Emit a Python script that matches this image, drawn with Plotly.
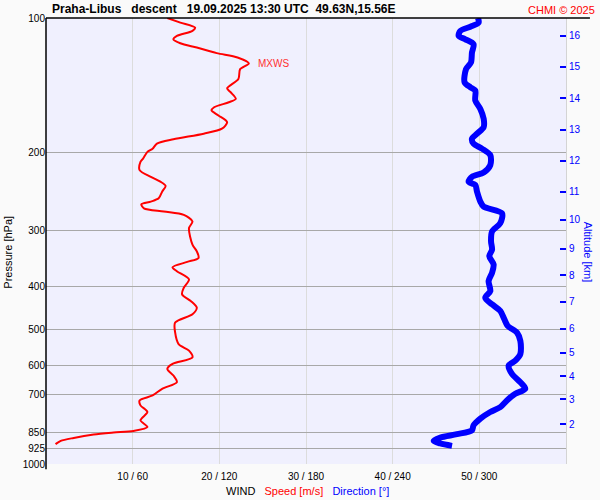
import math
import plotly.graph_objects as go

# wind speed profile (descent), pressure in hPa, speed in m/s
speed_p = [100, 102.4, 105.1, 106.9, 109.7, 111.6, 113.9, 116.5, 119.9, 122.6,
           126.4, 130.2, 137.0, 143.7, 146.7, 151.8, 154.5, 158.5, 161.2, 165.4,
           171.2, 177.1, 181.7, 187.0, 191.3, 196.3, 199.6, 206.6, 210.2, 219.3,
           227.0, 232.8, 238.0, 245.1, 253.7, 258.0, 261.6, 267.1, 271.6, 276.3,
           285.9, 296.0, 322.2, 333.5, 345.1, 352.3, 362.0, 369.5, 385.6, 402.6,
           416.5, 431.0, 446.1, 461.5, 481.8, 507.1, 538.3, 557.1, 576.6, 596.5,
           612.0, 633.4, 655.6, 678.2, 702.0, 720.1, 738.8, 764.6, 798.0, 825.9,
           843.0, 850.0, 858.8, 874.0, 887.6, 902.7]
speed_ms = [14.0, 15.5, 17.2, 16.9, 15.1, 14.7, 15.5, 17.4, 19.7, 22.1,
            23.4, 22.4, 22.2, 20.9, 21.3, 21.9, 21.1, 19.4, 19.1, 19.9,
            20.9, 20.3, 18.2, 14.7, 12.8, 12.3, 11.7, 11.2, 10.9, 10.8,
            12.1, 13.2, 13.8, 13.4, 13.0, 12.1, 11.0, 11.3, 13.6, 15.9,
            16.9, 16.5, 16.9, 17.4, 17.6, 16.3, 14.6, 15.1, 16.5, 15.9,
            15.7, 16.7, 17.4, 16.9, 14.9, 14.9, 15.3, 16.5, 16.9, 14.6,
            14.0, 14.7, 15.1, 13.4, 12.3, 10.8, 10.9, 11.7, 10.9, 11.7,
            10.1, 7.8, 5.5, 3.2, 1.7, 1.1]

# wind direction profile, degrees
dir_p = [100, 102.4, 104.6, 106.9, 109.7, 111.6, 114.5, 119.5, 125.8, 130.2,
         139.4, 143.0, 145.4, 153.1, 159.9, 168.3, 175.6, 181.7, 186.5, 191.3,
         196.3, 203.0, 213.7, 222.0, 227.0, 232.8, 236.8, 245.1, 258.0, 264.8,
         274.0, 288.4, 301.0, 316.8, 330.6, 342.1, 357.0, 372.8, 389.0, 409.5,
         423.8, 438.5, 453.8, 473.5, 490.0, 507.3, 529.4, 566.8, 586.6, 601.9,
         628.1, 655.6, 678.2, 695.8, 720.1, 745.3, 764.6, 791.0, 818.7, 840.0,
         857.4, 872.1, 887.2, 899.4, 910.5]
dir_deg = [299.1, 299.5, 293.8, 286.8, 285.7, 290.3, 296.0, 294.9, 294.2, 290.8,
           289.8, 293.8, 297.2, 297.2, 300.7, 303.0, 303.0, 298.4, 294.9, 296.0,
           301.8, 307.6, 307.6, 303.0, 294.9, 292.6, 297.2, 298.4, 300.7, 303.0,
           315.7, 314.5, 308.8, 308.1, 308.8, 306.9, 309.9, 308.8, 306.4, 307.6,
           304.1, 308.8, 314.5, 317.3, 319.6, 326.1, 328.4, 328.4, 324.9, 320.3,
           322.6, 328.4, 331.8, 324.9, 319.1, 314.5, 307.6, 300.7, 296.0, 294.9,
           284.5, 273.0, 268.4, 273.0, 281.1]

pressure_ticks = [100, 200, 300, 400, 500, 600, 700, 850, 925, 1000]
alt_km = [2, 3, 4, 5, 6, 7, 8, 9, 10, 11, 12, 13, 14, 15, 16]
alt_p = [814.5, 716.2, 635.3, 562.8, 496.8, 433.2, 377.6, 329.5, 283.3, 245.3,
         208.9, 177.9, 151.4, 128.5, 109.6]
speed_ticks = [10, 20, 30, 40, 50]
dir_ticks = [60, 120, 180, 240, 300]

FONT = "Liberation Sans, Arial, sans-serif"
NB = "\u00a0"

fig = go.Figure()

fig.add_trace(go.Scatter(
    x=speed_ms, y=speed_p, mode="lines",
    line=dict(color="#ff0000", width=2, shape="spline", smoothing=0.8),
    showlegend=False, hoverinfo="skip"
))

# direction shares the x axis: 60 deg per 10 m/s
fig.add_trace(go.Scatter(
    x=[d / 6 for d in dir_deg], y=dir_p, mode="lines", yaxis="y2",
    line=dict(color="#0000ff", width=6, shape="spline", smoothing=0.8),
    showlegend=False, hoverinfo="skip"
))

# max wind marker
imax = speed_ms.index(max(speed_ms))
vmax = speed_ms[imax]
lp = math.log10(speed_p[imax])

shapes = [
    # top border, runs past the plot to the right
    dict(type="line", xref="paper", yref="paper", x0=0, x1=1.046, y0=1, y1=1,
         line=dict(color="black", width=1.5)),
    # left axis line, a little below 1000 hPa
    dict(type="line", xref="paper", yref="paper", x0=0, x1=0, y0=-0.012, y1=1,
         line=dict(color="black", width=1.5)),
    dict(type="line", xref="x", yref="y", x0=vmax, x1=vmax + 1.0, y0=lp, y1=lp,
         line=dict(color="#ff0000", width=1)),
    dict(type="line", xref="paper", yref="y", x0=-0.006, x1=0.019, y0=lp, y1=lp,
         line=dict(color="#ff0000", width=1)),
    dict(type="line", xref="paper", yref="y", x0=0.979, x1=1.002, y0=lp, y1=lp,
         line=dict(color="#ff0000", width=1)),
]

title_txt = (f"Praha-Libus{NB*3}descent{NB*3}19.09.2025 13:30 UTC"
             f"{NB*2}49.63N,15.56E")
wind_txt = (f"WIND{NB*3}<span style='color:#ff0000'>Speed [m/s]</span>{NB*3}"
            f"<span style='color:#0000ff'>Direction [°]</span>")

annotations = [
    dict(text=f"<b>{title_txt}</b>", xref="paper", yref="paper", x=0.0077, y=1,
         xanchor="left", yanchor="bottom", showarrow=False,
         font=dict(size=12, color="black")),
    dict(text="CHMI © 2025", xref="paper", yref="paper", x=1.0596, y=1,
         xanchor="right", yanchor="bottom", showarrow=False,
         font=dict(size=11, color="#ff0000")),
    dict(text="MXWS", xref="x", yref="y", x=vmax + 0.85, y=lp,
         xanchor="left", yanchor="middle", showarrow=False,
         font=dict(size=10, color="#ff3030")),
    dict(text="Pressure [hPa]", xref="paper", yref="paper", x=-0.073, y=0.474,
         xanchor="center", yanchor="middle", textangle=-90, showarrow=False,
         font=dict(size=11, color="black")),
    dict(text="Altitude [km]", xref="paper", yref="paper", x=1.044, y=0.474,
         xanchor="center", yanchor="middle", textangle=90, showarrow=False,
         font=dict(size=11, color="#0000ff")),
    dict(text=wind_txt, xref="paper", yref="paper", x=0.502, y=-0.060,
         xanchor="center", yanchor="middle", showarrow=False,
         font=dict(size=11, color="black")),
]

fig.update_layout(
    width=600, height=500,
    margin=dict(l=46, r=34, t=15, b=36),
    paper_bgcolor="#fafafa",
    plot_bgcolor="#f0f0fe",
    font=dict(family=FONT, size=10, color="black"),
    xaxis=dict(
        range=[0, 60], tickvals=speed_ticks,
        ticktext=[f"{s} / {d}" for s, d in zip(speed_ticks, dir_ticks)],
        showgrid=True, gridcolor="#dcdcdc", gridwidth=1,
        zeroline=False, showline=False,
        ticks="outside", ticklen=3, tickcolor="rgba(0,0,0,0)",
        tickfont=dict(size=10, color="black"),
    ),
    yaxis=dict(
        type="log", range=[3, 2], tickvals=pressure_ticks,
        ticktext=[str(p) for p in pressure_ticks],
        showgrid=True, gridcolor="#a8a8a8", gridwidth=1,
        zeroline=False, showline=False, ticks="",
        tickfont=dict(size=10, color="black"),
    ),
    yaxis2=dict(
        type="log", range=[3, 2], overlaying="y", side="right",
        tickvals=alt_p, ticktext=[str(a) for a in alt_km],
        showgrid=False, zeroline=False,
        showline=True, linecolor="#d4d4d4", linewidth=1,
        ticks="inside", ticklen=6, tickwidth=1.5, tickcolor="#0000ff",
        tickfont=dict(size=10, color="#0000ff"),
    ),
    shapes=shapes,
    annotations=annotations,
)

# drop the page margin so the 600x500 figure sits at the window origin
fix_page = ("document.body.style.margin='0';"
            "document.body.style.overflow='hidden';"
            "Plotly.relayout('{plot_id}', {width: 600, height: 500});")

fig.write_html("out.html",
               config={"responsive": False, "displayModeBar": False},
               post_script=fix_page)
